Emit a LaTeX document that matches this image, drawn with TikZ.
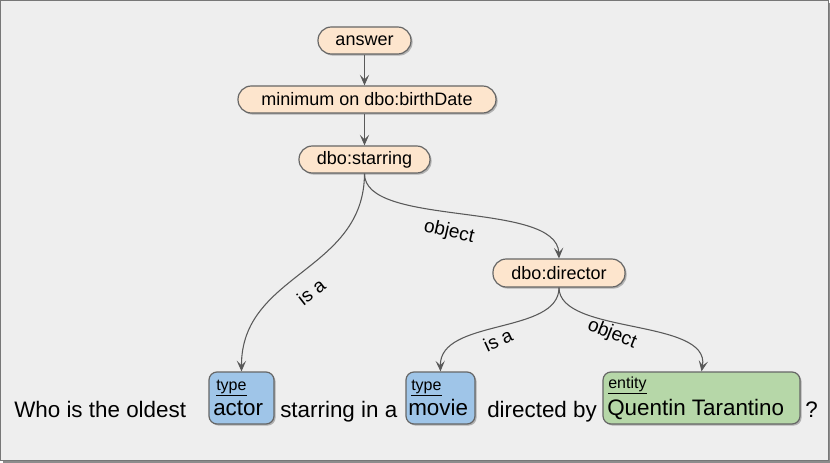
\documentclass[tikz,border=0pt]{standalone}
\usepackage{fontspec}
\setmainfont{Liberation Sans}
\usetikzlibrary{shadows,arrows.meta}
\definecolor{bgc}{HTML}{EEEEEE}
\definecolor{framec}{HTML}{777777}
\definecolor{peach}{HTML}{FDE5CD}
\definecolor{bluec}{HTML}{9FC5E8}
\definecolor{greenc}{HTML}{B6D7A8}
\definecolor{bordc}{HTML}{666666}
\definecolor{edgec}{HTML}{595959}
\tikzset{
  pill/.style={draw=bordc, fill=peach, line width=0.9pt, rounded corners=10pt, inner sep=0pt,
    font=\fontsize{13.5}{16}\selectfont,
    drop shadow={shadow xshift=1.2pt, shadow yshift=-1.2pt, opacity=0.25, fill=black}},
  tagbox/.style={draw=bordc, line width=0.9pt, rounded corners=6pt, inner sep=0pt,
    drop shadow={shadow xshift=1.2pt, shadow yshift=-1.2pt, opacity=0.25, fill=black}},
  small/.style={font=\fontsize{12}{14}\selectfont, inner sep=0pt, anchor=base west},
  big/.style={font=\fontsize{16.8}{19}\selectfont, inner sep=0pt, anchor=base west},
  elabel/.style={font=\fontsize{14.3}{16}\selectfont, inner sep=0pt},
  conn/.style={draw=edgec, line width=0.8pt, -{Stealth[length=8pt,width=7pt,inset=3.5pt]}},
}
\begin{document}
\begin{tikzpicture}[x=0.75pt,y=-0.75pt]
\useasboundingbox (0,0) rectangle (830,463);
\fill[black!45] (3,3) rectangle (830,463);
\draw[framec, fill=bgc, line width=0.8pt] (0.6,0.6) rectangle (828.4,460.4);

% top nodes
\node[pill, minimum width=93*0.75pt, minimum height=27*0.75pt] (ans) at (364.5,40.5) {answer};
\node[pill, minimum width=258*0.75pt, minimum height=27*0.75pt] (minb) at (367,99.5) {minimum on dbo:birthDate};
\node[pill, minimum width=131*0.75pt, minimum height=27*0.75pt] (star) at (364.5,159.5) {dbo:starring};
\node[pill, minimum width=132*0.75pt, minimum height=28*0.75pt] (dir) at (559,273) {dbo:director};

% tag boxes
\node[tagbox, fill=bluec, minimum width=65*0.75pt, minimum height=52*0.75pt] (actor) at (241.5,398) {};
\node[tagbox, fill=bluec, minimum width=69*0.75pt, minimum height=52*0.75pt] (movie) at (440.5,398) {};
\node[tagbox, fill=greenc, minimum width=197*0.75pt, minimum height=52*0.75pt] (qt) at (701.5,398) {};

\node[small] (t1) at (216,390) {\underline{type}};
\node[big] (w1) at (213,415) {actor};
\node[small] (t2) at (411,390) {\underline{type}};
\node[big] (w2) at (408,415) {movie};
\node[small] (t3) at (608,388) {\underline{entity}};
\node[big] (w3) at (607,415.5) {Quentin Tarantino};

% sentence
\node[big] (s1) at (14,417) {Who is the oldest};
\node[big] (s2) at (280,417) {starring in a};
\node[big] (s3) at (487,417) {directed by};
\node[big] (s4) at (805,417) {?};

% connectors
\draw[conn] (ans.south) -- (ans.south |- minb.north);
\draw[conn] (star.north |- minb.south) -- (star.north);
\draw[conn] (star.south) .. controls (364,272) and (241,273) .. (actor.north);
\draw[conn] (star.south) .. controls (364,228) and (557,200) .. (dir.north);
\draw[conn] (dir.south) .. controls (559,335) and (439,318) .. (movie.north);
\draw[conn] (dir.south) .. controls (559,335) and (711,318) .. (qt.north);

% labels
\node[elabel, rotate=38] (l1) at (311,292) {is a};
\node[elabel, rotate=-13] (l2) at (449,232) {object};
\node[elabel, rotate=25] (l3) at (498,340) {is a};
\node[elabel, rotate=-22] (l4) at (612,334) {object};
\end{tikzpicture}
\end{document}
